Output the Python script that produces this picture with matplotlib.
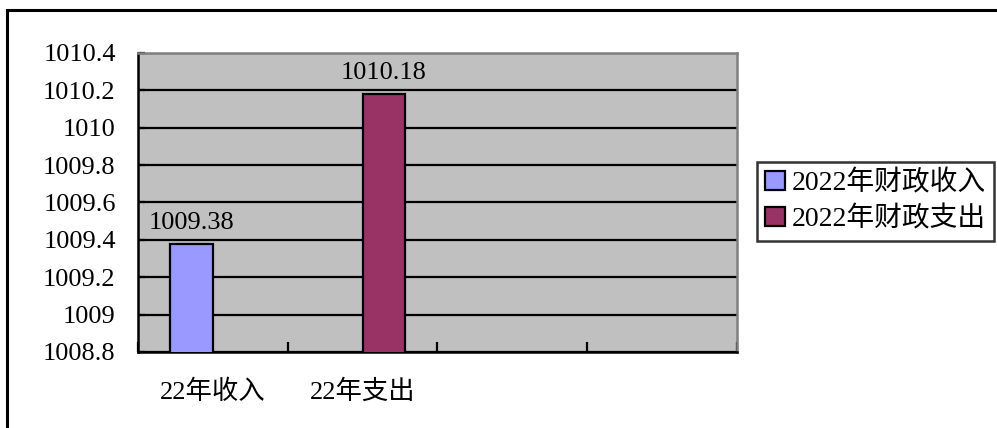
import matplotlib
matplotlib.use("Agg")
import matplotlib.pyplot as plt
from matplotlib.patches import Rectangle

plt.rcParams['font.family'] = ['Liberation Serif', 'Noto Sans CJK SC', 'DejaVu Sans']

# Data
categories = ['22年收入', '22年支出', '', '']
series_names = ['2022年财政收入', '2022年财政支出']
income = [1009.38, None, None, None]
spending = [None, 1010.18, None, None]
y_ticks = [1008.8, 1009.0, 1009.2, 1009.4, 1009.6, 1009.8, 1010.0, 1010.2, 1010.4]
colors = ['#9999FF', '#993366']

FS = 19

fig = plt.figure(figsize=(9.97, 4.28), dpi=100)
fig.patch.set_facecolor('white')

# Outer chart frame
fig.patches.append(Rectangle((0.0070, -0.1), 1.1, 0.9766 + 0.1, transform=fig.transFigure,
                             fill=False, edgecolor='black', linewidth=2.2))

ax = fig.add_axes([0.1384, 0.1776, 0.6008, 0.6986])
ax.set_facecolor('#C0C0C0')

n = len(categories)
width = 1 / 3.5
offsets = [-width / 2, width / 2]

for values, name, color, off in zip([income, spending], series_names, colors, offsets):
    xs = [i + off for i, v in enumerate(values) if v is not None]
    hs = [v for v in values if v is not None]
    bars = ax.bar(xs, hs, width=width, color=color, edgecolor='black', linewidth=1.6,
                  label=name, zorder=3)
    ax.bar_label(bars, labels=[f'{v:.2f}' for v in hs], padding=7, fontsize=FS)

ax.set_xlim(-0.5, n - 0.5)
ax.set_ylim(y_ticks[0], y_ticks[-1])
ax.set_yticks(y_ticks)
ax.set_yticklabels([f'{t:g}' for t in y_ticks], fontsize=FS)
ax.yaxis.grid(True, color='black', linewidth=1.6)
ax.set_axisbelow(True)

# Category boundaries get tick marks, category centres get the labels
ax.set_xticks([i - 0.5 for i in range(n + 1)])
ax.set_xticklabels([])
ax.set_xticks(list(range(n)), minor=True)
ax.set_xticklabels(categories, minor=True, fontsize=FS)
ax.tick_params(axis='x', which='major', direction='in', length=7, width=1.6, color='black')
ax.tick_params(axis='x', which='minor', length=0, pad=20)
ax.tick_params(axis='y', direction='in', length=5, width=1.6, pad=16)

for side in ['left', 'bottom']:
    ax.spines[side].set_color('black')
    ax.spines[side].set_linewidth(1.8)
for side in ['top', 'right']:
    ax.spines[side].set_color('#808080')
    ax.spines[side].set_linewidth(1.8)

leg = fig.legend(loc='upper left', bbox_to_anchor=(0.759, 0.6215), borderaxespad=0,
                 fancybox=False, frameon=True, edgecolor='black', fontsize=20,
                 handlelength=0.7, handleheight=0.7, handletextpad=0.25,
                 borderpad=0.3, labelspacing=0.35)
leg.get_frame().set_linewidth(1.8)

fig.savefig('out.png', dpi=100)
